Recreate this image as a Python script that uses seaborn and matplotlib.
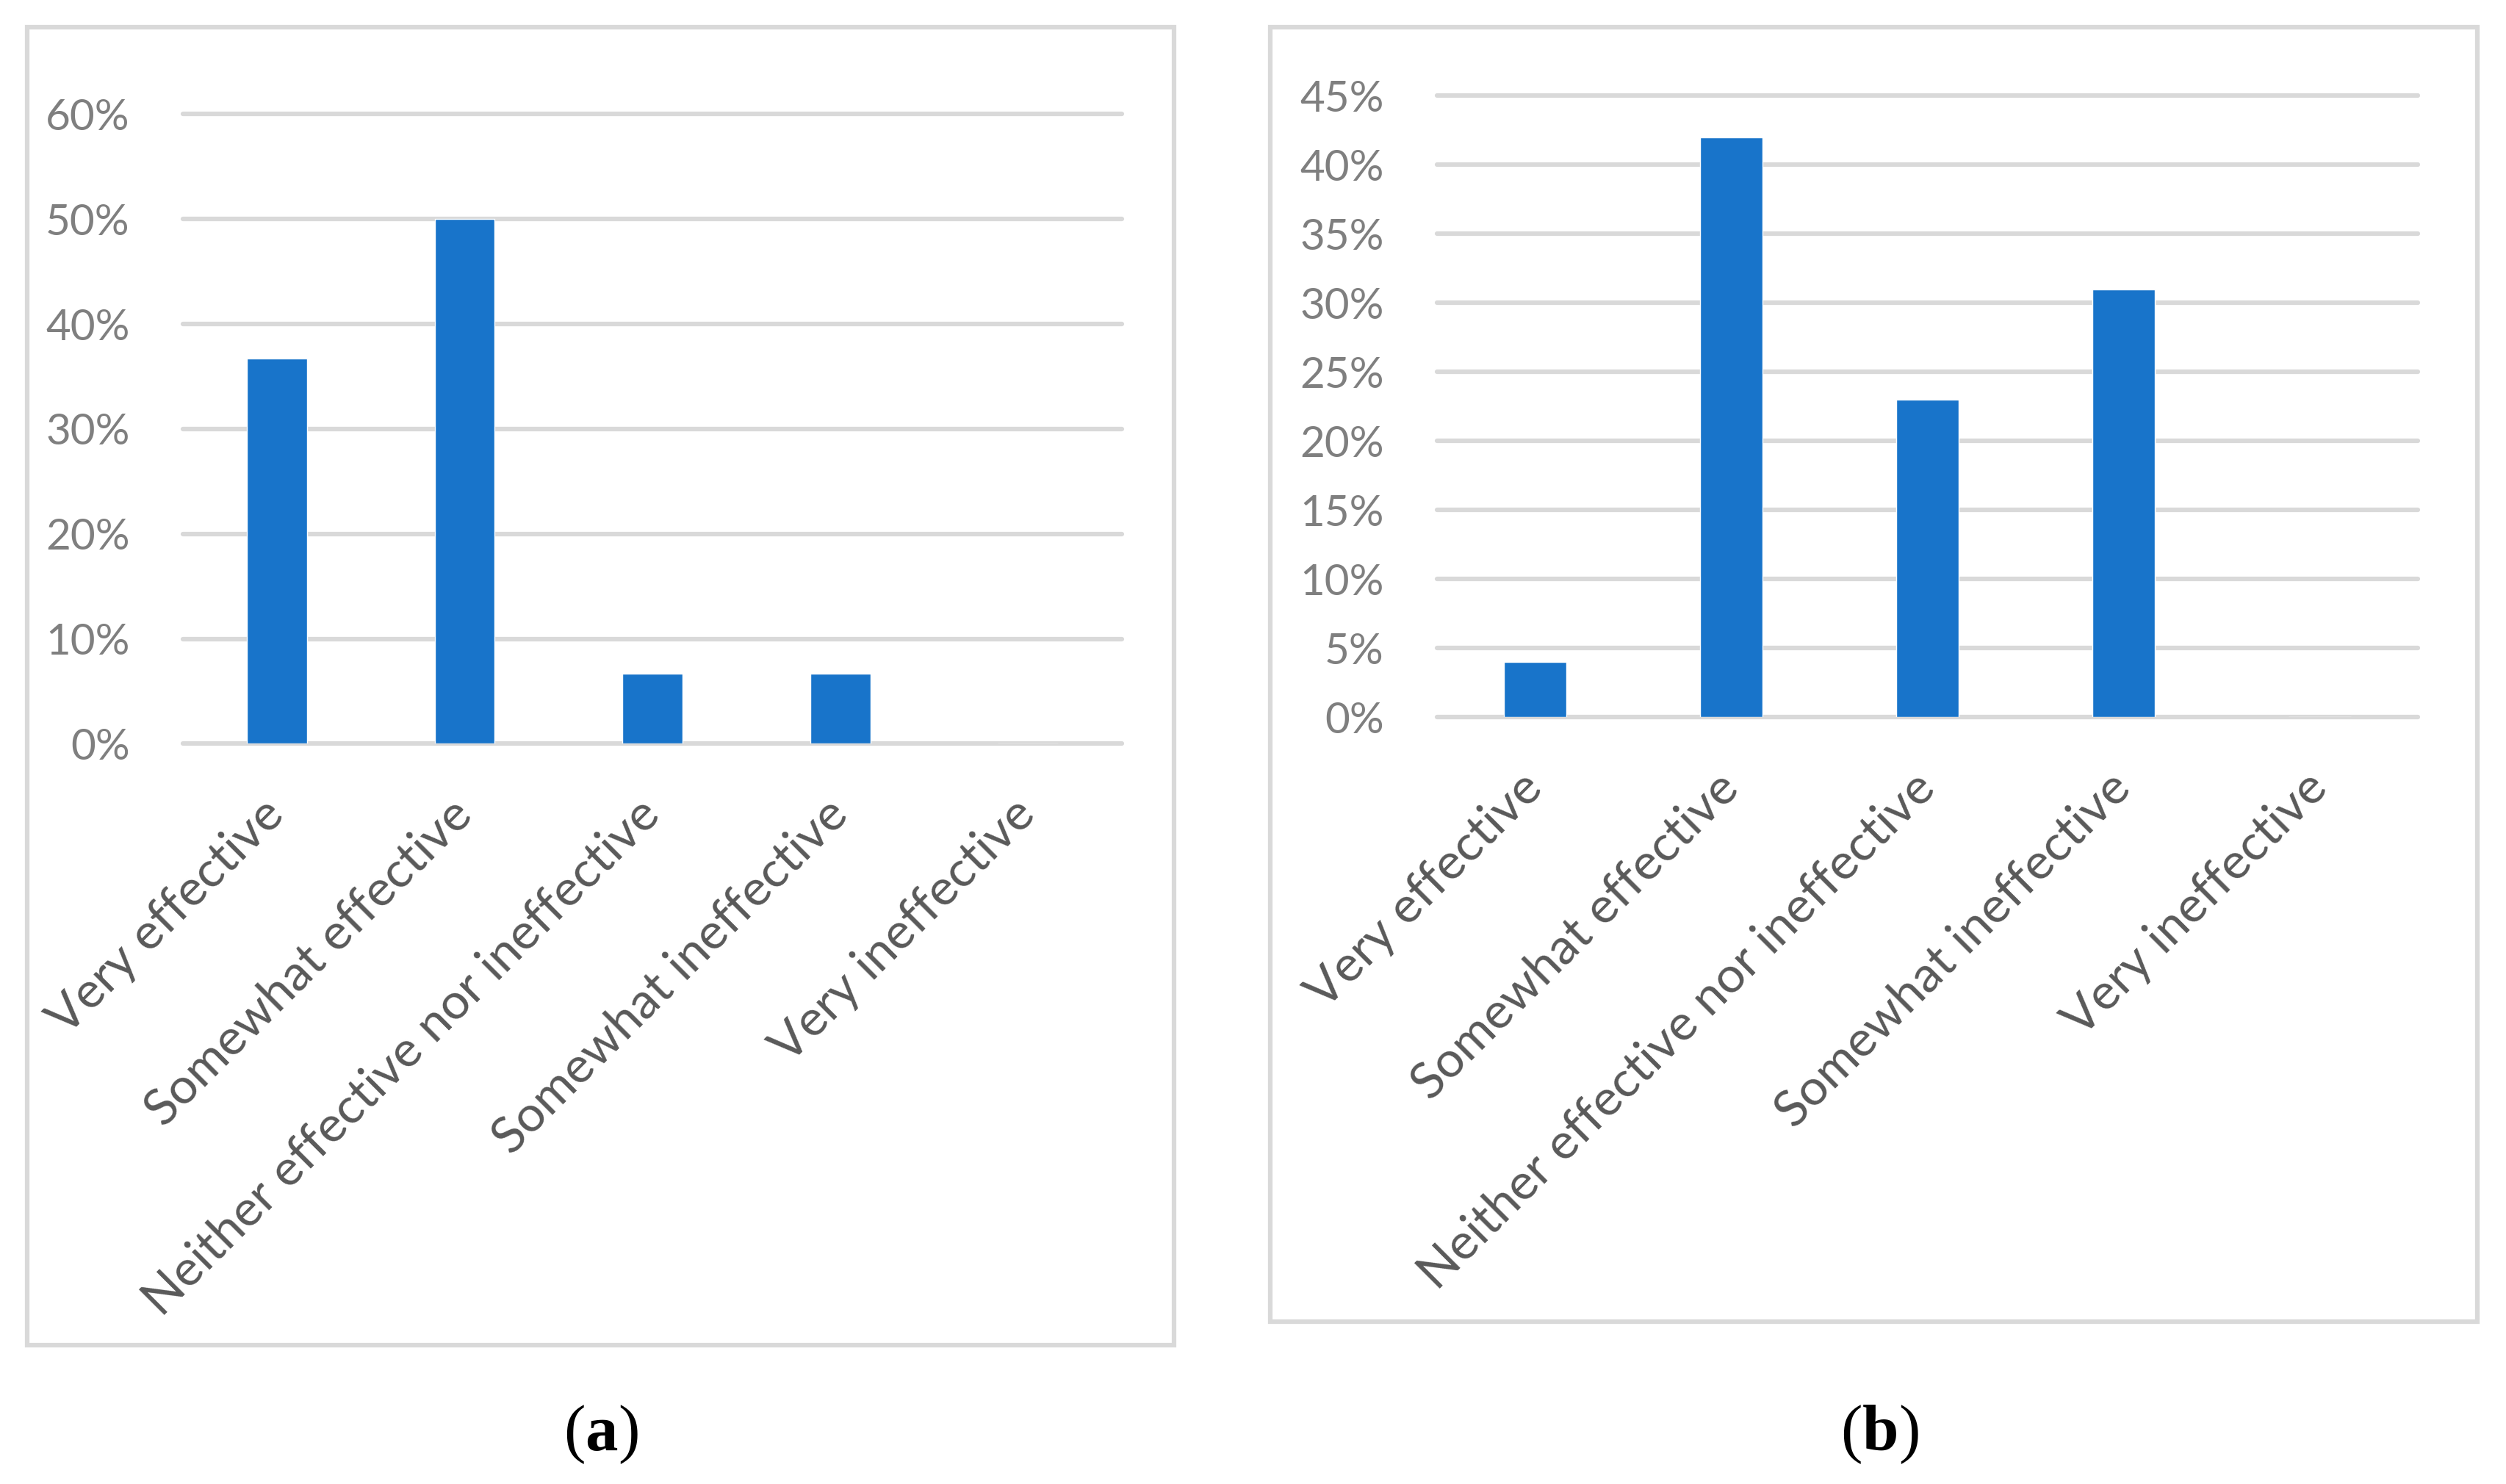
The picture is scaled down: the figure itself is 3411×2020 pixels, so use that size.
import matplotlib.pyplot as plt
import seaborn as sns
from matplotlib.patches import Rectangle
from matplotlib.ticker import PercentFormatter, MultipleLocator

categories = ["Very effective", "Somewhat effective",
              "Neither effective nor ineffective", "Somewhat ineffective",
              "Very ineffective"]
share_a = [0.367, 0.50, 0.067, 0.067, 0.0]
share_b = [0.04, 0.42, 0.23, 0.31, 0.0]
captions = ["a", "b"]

bar_color = "#1874CA"
grid_color = "#D9D9D9"

sns.set_theme(style="white")
plt.rcParams["font.family"] = ["Lato", "DejaVu Sans"]
plt.rcParams["mathtext.fontset"] = "custom"
plt.rcParams["mathtext.rm"] = "Liberation Serif"
plt.rcParams["mathtext.bf"] = "Liberation Serif:bold"

fig = plt.figure(figsize=(34.11, 20.20), dpi=100)

# axes rect, y max, y step, border rect, caption x
panels = [
    (share_a, [0.0730, 0.4988, 0.3747, 0.4243], 0.60, 0.10,
     [0.0108, 0.0936, 0.4576, 0.8881], 0.2398),
    (share_b, [0.5734, 0.5166, 0.3914, 0.4188], 0.45, 0.05,
     [0.5069, 0.1094, 0.4817, 0.8723], 0.7499),
]

for (vals, rect, ymax, step, box, cx), cap in zip(panels, captions):
    ax = fig.add_axes(rect)
    sns.barplot(x=categories, y=vals, color=bar_color, saturation=1,
                width=0.32, ax=ax)
    ax.set_xlim(-0.5, len(categories) - 0.5)
    ax.set_ylim(0, ymax)
    ax.yaxis.set_major_locator(MultipleLocator(step))
    ax.yaxis.set_major_formatter(PercentFormatter(1.0, decimals=0))
    ax.set_axisbelow(True)
    ax.grid(axis="y", color=grid_color, linewidth=4.5)
    for gl in ax.get_ygridlines():
        gl.set_clip_on(False)
    sns.despine(ax=ax, left=True, bottom=True)
    ax.tick_params(axis="y", length=0, pad=52, labelsize=42,
                   labelcolor="#7F7F7F")
    ax.tick_params(axis="x", length=0, pad=62, labelsize=49,
                   labelcolor="#595959")
    for lab in ax.get_xticklabels():
        lab.set_rotation(45)
        lab.set_ha("right")
        lab.set_va("center")
        lab.set_rotation_mode("anchor")
    ax.set_xlabel("")
    ax.set_ylabel("")

    fig.add_artist(Rectangle((box[0], box[1]), box[2], box[3],
                             transform=fig.transFigure, fill=False,
                             edgecolor=grid_color, linewidth=4.5))
    fig.text(cx, 0.0332, "($\\mathbf{" + cap + "}$)", ha="center",
             va="center", fontsize=64, family="Liberation Serif",
             color="black")

fig.savefig("out.png", dpi=100, facecolor="white")
